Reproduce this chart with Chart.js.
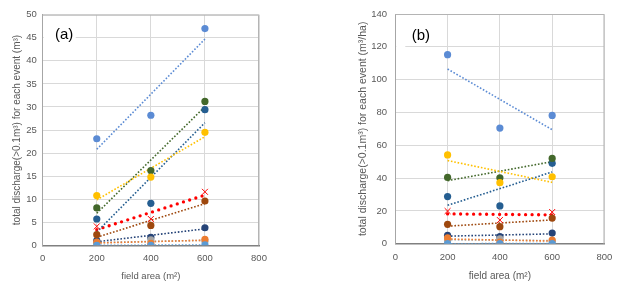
<!DOCTYPE html>
<html>
<head>
<meta charset="utf-8">
<script src="https://cdn.jsdelivr.net/npm/chart.js"></script>
<style>
  body { margin: 0; background: #fff; width: 620px; height: 295px; overflow: hidden; position: relative; }
  canvas { position: absolute; top: 0; }
  #chartA { left: 0; }
  #chartB { left: 310px; }
</style>
</head>
<body>
<canvas id="chartA" width="310" height="295"></canvas>
<canvas id="chartB" width="310" height="295"></canvas>
<script>
// field area of each plot (m²)
const fieldAreas = [200, 400, 600];

// x axis ticks
const xTicks = [0, 200, 400, 600, 800];
// y axis ticks, panel (a) and panel (b)
const yTicksA = [0, 5, 10, 15, 20, 25, 30, 35, 40, 45, 50];
const yTicksB = [0, 20, 40, 60, 80, 100, 120, 140];

// (a) total discharge (>0.1 m³) for each event (m³)
const aLightBlue = [0, 0, 0.1];
const aOrange    = [0.7, 0.4, 1.3];
const aGray      = [0.4, 1.2, 0.9];
const aYellow    = [10.8, 14.8, 24.5];
const aBlue      = [23.1, 28.2, 47.0];
const aGreen     = [8.1, 16.2, 31.2];
const aDarkBlue  = [5.7, 9.1, 29.4];
const aBrown     = [2.3, 4.3, 9.6];
const aNavy      = [1.0, 1.7, 3.8];
const aRed       = [4.1, 5.7, 11.6];

// (b) total discharge (>0.1 m³) for each event (m³/ha)
const bLightBlue = [0, 0, 0.1];
const bOrange    = [3.5, 1.0, 2.2];
const bGray      = [2.0, 3.0, 1.5];
const bYellow    = [54.1, 37.2, 40.8];
const bBlue      = [115.2, 70.5, 78.2];
const bGreen     = [40.4, 40.2, 52.0];
const bDarkBlue  = [28.7, 23.0, 49.0];
const bBrown     = [11.8, 10.4, 15.6];
const bNavy      = [5.1, 4.3, 6.5];
const bRed       = [19.9, 14.4, 19.3];

// colours of the series, same order in both panels
const seriesColors = ['#5B9BD5', '#ED7D31', '#A5A5A5', '#FFC000', '#5B8BD4',
                      '#43682B', '#255E91', '#9E480E', '#264478', '#FF0000'];

const FONT = '"Liberation Sans", Arial, sans-serif';
const TEXT_COLOR = '#595959';

// Excel-like linear trendline between first and last field area
function trendLine(values) {
    const n = values.length;
    const mx = fieldAreas.reduce((a, b) => a + b, 0) / n;
    const my = values.reduce((a, b) => a + b, 0) / n;
    let sxy = 0, sxx = 0;
    for (let i = 0; i < n; i++) {
        sxy += (fieldAreas[i] - mx) * (values[i] - my);
        sxx += (fieldAreas[i] - mx) * (fieldAreas[i] - mx);
    }
    const slope = sxy / sxx;
    const x0 = fieldAreas[0], x1 = fieldAreas[n - 1];
    return [{ x: x0, y: my + slope * (x0 - mx) }, { x: x1, y: my + slope * (x1 - mx) }];
}

function buildDatasets(seriesList) {
    const points = seriesList.map((values, i) => {
        const isRed = i === seriesList.length - 1;
        return {
            data: fieldAreas.map((x, k) => ({ x: x, y: values[k] })),
            showLine: false,
            pointStyle: isRed ? 'crossRot' : 'circle',
            pointRadius: isRed ? 4.2 : 3.6,
            pointBackgroundColor: seriesColors[i],
            pointBorderColor: seriesColors[i],
            pointBorderWidth: isRed ? 1 : 0
        };
    });
    const trends = seriesList.map((values, i) => {
        const isRed = i === seriesList.length - 1;
        return {
            data: trendLine(values),
            showLine: true,
            pointRadius: 0,
            borderColor: seriesColors[i],
            borderWidth: isRed ? 3.3 : 1.6,
            borderCapStyle: isRed ? 'round' : 'butt',
            borderDash: isRed ? [0, 6.5] : [1.6, 1.8]
        };
    });
    return points.concat(trends);
}

// panel letter, white patch behind it, and plot area frame
const panelDecor = {
    id: 'panelDecor',
    beforeDatasetsDraw(chart, args, opts) {
        const { ctx, chartArea } = chart;
        ctx.save();
        ctx.fillStyle = '#fff';
        ctx.fillRect(chartArea.left + 1, chartArea.top + opts.maskY, opts.maskW, opts.maskH);
        ctx.restore();
    },
    afterDraw(chart, args, opts) {
        const { ctx, chartArea } = chart;
        ctx.save();
        ctx.strokeStyle = '#b4b4b4';
        ctx.lineWidth = 1;
        ctx.beginPath();
        ctx.moveTo(chartArea.left, chartArea.top + 0.5);
        ctx.lineTo(chartArea.right - 0.5, chartArea.top + 0.5);
        ctx.lineTo(chartArea.right - 0.5, chartArea.bottom);
        ctx.stroke();
        ctx.font = '15px ' + FONT;
        ctx.fillStyle = '#000';
        ctx.textBaseline = 'middle';
        ctx.fillText(opts.text, chartArea.left + opts.dx, chartArea.top + opts.dy);
        ctx.restore();
    }
};

function makeChart(canvasId, seriesList, yTicks, cfg) {
    const ctx = document.getElementById(canvasId).getContext('2d');
    return new Chart(ctx, {
        type: 'scatter',
        data: { datasets: buildDatasets(seriesList) },
        plugins: [panelDecor],
        options: {
            responsive: false,
            animation: false,
            layout: { padding: cfg.padding },
            plugins: {
                legend: { display: false },
                tooltip: { enabled: false },
                panelDecor: cfg.decor
            },
            scales: {
                x: {
                    type: 'linear',
                    min: xTicks[0],
                    max: xTicks[xTicks.length - 1],
                    afterBuildTicks: s => { s.ticks = xTicks.map(v => ({ value: v })); },
                    afterFit: s => { s.height = cfg.xHeight; },
                    ticks: { color: TEXT_COLOR, padding: cfg.xTickPad, font: { family: FONT, size: cfg.tickSize } },
                    grid: { color: '#d9d9d9', drawTicks: false },
                    border: { color: '#808080', width: 1.5 },
                    title: {
                        display: true,
                        text: 'field area (m²)',
                        color: TEXT_COLOR,
                        font: { family: FONT, size: cfg.xTitleSize },
                        padding: { top: 0, bottom: cfg.xTitlePad }
                    }
                },
                y: {
                    min: yTicks[0],
                    max: yTicks[yTicks.length - 1],
                    afterBuildTicks: s => { s.ticks = yTicks.map(v => ({ value: v })); },
                    afterFit: s => { s.width = cfg.yWidth; },
                    ticks: { color: TEXT_COLOR, padding: cfg.yTickPad, font: { family: FONT, size: cfg.tickSize } },
                    grid: { color: '#d9d9d9', drawTicks: false },
                    border: { color: '#a6a6a6' },
                    title: {
                        display: true,
                        text: cfg.yTitle,
                        color: TEXT_COLOR,
                        font: { family: FONT, size: cfg.yTitleSize },
                        padding: { top: cfg.yTitlePad, bottom: 0 }
                    }
                }
            }
        }
    });
}

makeChart('chartA',
    [aLightBlue, aOrange, aGray, aYellow, aBlue, aGreen, aDarkBlue, aBrown, aNavy, aRed],
    yTicksA,
    {
        padding: { left: 0, top: 14.7, right: 51, bottom: 0 },
        xHeight: 49.7, yWidth: 42.7,
        xTickPad: 7.3, yTickPad: 6,
        xTitlePad: 13.2, yTitlePad: 11,
        tickSize: 9.5, xTitleSize: 9.5, yTitleSize: 10,
        yTitle: 'total discharge(>0.1m³) for each event (m³)',
        decor: { text: '(a)', dx: 12.3, dy: 20.5, maskY: 19, maskW: 32, maskH: 10 }
    });

makeChart('chartB',
    [bLightBlue, bOrange, bGray, bYellow, bBlue, bGreen, bDarkBlue, bBrown, bNavy, bRed],
    yTicksB,
    {
        padding: { left: 0, top: 14, right: 15.5, bottom: 0 },
        xHeight: 51.3, yWidth: 85.3,
        xTickPad: 7.6, yTickPad: 8.3,
        xTitlePad: 13, yTitlePad: 47,
        tickSize: 9.5, xTitleSize: 10, yTitleSize: 10.5,
        yTitle: 'total discharge(>0.1m³) for each event (m³/ha)',
        decor: { text: '(b)', dx: 16.4, dy: 21.5, maskY: 28, maskW: 9, maskH: 10 }
    });
</script>
</body>
</html>
